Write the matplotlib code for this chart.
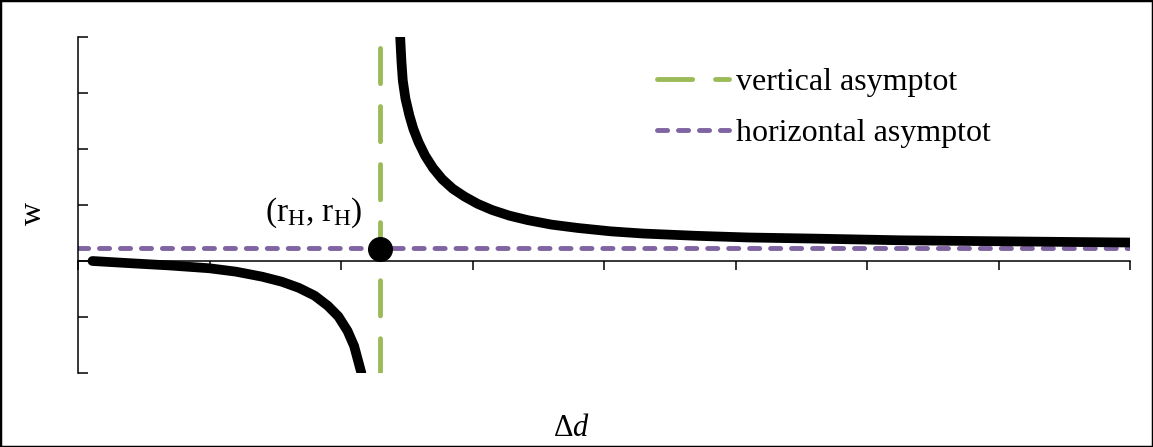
import matplotlib
matplotlib.use('Agg')
import matplotlib.pyplot as plt
from matplotlib.patches import Rectangle

# === FONTS (Times-like, as in the original Word/Excel figure) ===
plt.rcParams['font.family'] = ['Liberation Serif', 'DejaVu Serif']
plt.rcParams['mathtext.fontset'] = 'custom'
plt.rcParams['mathtext.rm'] = 'Liberation Serif'
plt.rcParams['mathtext.it'] = 'Liberation Serif:italic'
plt.rcParams['lines.scale_dashes'] = False

# === DATA ===
left_x = [0.11, 0.40, 0.70, 1.00, 1.20, 1.40, 1.55, 1.68, 1.80, 1.90, 1.98, 2.05, 2.10, 2.155]
left_y = [0.0, -0.04, -0.08, -0.13, -0.19, -0.28, -0.37, -0.48, -0.62, -0.80, -0.99, -1.25, -1.52, -2.0]

right_x = [2.45, 2.46, 2.47, 2.49, 2.52, 2.55, 2.59, 2.64, 2.70, 2.77, 2.85, 2.94, 3.04,
           3.15, 3.28, 3.42, 3.60, 3.80, 4.05, 4.30, 4.70, 5.10, 5.60, 6.25, 7.10, 8.0]
right_y = [4.0, 3.55, 3.22, 2.90, 2.60, 2.36, 2.12, 1.88, 1.66, 1.46, 1.29, 1.15, 1.02,
           0.91, 0.81, 0.73, 0.65, 0.59, 0.53, 0.49, 0.45, 0.42, 0.40, 0.37, 0.35, 0.33]

vert_x = 2.3
vert_y = [3.8, -2.0]
horiz_y = 0.23
horiz_x = [0.0, 8.0]
point_x = 2.3
point_y = 0.21

x_ticks = list(range(0, 9))
y_ticks = list(range(-2, 5))

green = '#9BBB59'
purple = '#8064A2'

# === FIGURE ===
W, H = 1153, 447
fig = plt.figure(figsize=(W / 100, H / 100), dpi=100)
ax = fig.add_axes([78 / W, 1 - 373 / H, (1130 - 78) / W, (373 - 37) / H])

ax.plot(left_x, left_y, color='black', lw=7, solid_capstyle='round',
        solid_joinstyle='round', zorder=3)
ax.plot(right_x, right_y, color='black', lw=7, solid_capstyle='round',
        solid_joinstyle='round', zorder=3)

g_line, = ax.plot([vert_x, vert_x], vert_y, color=green, lw=3.5,
                  dashes=(25.3, 16.5), dash_capstyle='round', zorder=2)
p_line, = ax.plot(horiz_x, [horiz_y, horiz_y], color=purple, lw=3.5,
                  dashes=(7.3, 7.8), dash_capstyle='round', zorder=2)
ax.plot([point_x], [point_y], 'o', color='black', markersize=17, zorder=4)

ax.text(1.795, 0.86, r'(r$_{\mathrm{H}}$, r$_{\mathrm{H}}$)', fontsize=24,
        ha='center', va='center')

ax.set_xlim(0, 8)
ax.set_ylim(-2, 4)
ax.spines['top'].set_visible(False)
ax.spines['right'].set_visible(False)
ax.spines['bottom'].set_position(('data', 0))
for s in ('left', 'bottom'):
    ax.spines[s].set_linewidth(1.1)

ax.set_xticks(x_ticks)
ax.set_yticks(y_ticks)
ax.set_xticklabels([])
ax.set_yticklabels([])
ax.tick_params(axis='x', direction='out', length=6.5, width=1.1)
ax.tick_params(axis='y', direction='in', length=7.5, width=1.1)

ax.legend([g_line, p_line], ['vertical asymptot', 'horizontal asymptot'],
          loc='upper left', bbox_to_anchor=(657 / W, 1 - 68 / H),
          bbox_transform=fig.transFigure, frameon=False, fontsize=23,
          handlelength=2.26, handletextpad=0.2, labelspacing=0.66,
          borderpad=0, borderaxespad=0)

fig.text(571 / W, 1 - 428 / H, r'$\Delta d$', fontsize=22, ha='center', va='center')
fig.text(33 / W, 1 - 213 / H, 'w', fontsize=23, rotation=90, ha='center', va='center')

fig.patches.append(Rectangle((0, 0), 1, 1, transform=fig.transFigure,
                             fill=False, lw=2.5, ec='black'))

fig.savefig('out.png', dpi=100)
